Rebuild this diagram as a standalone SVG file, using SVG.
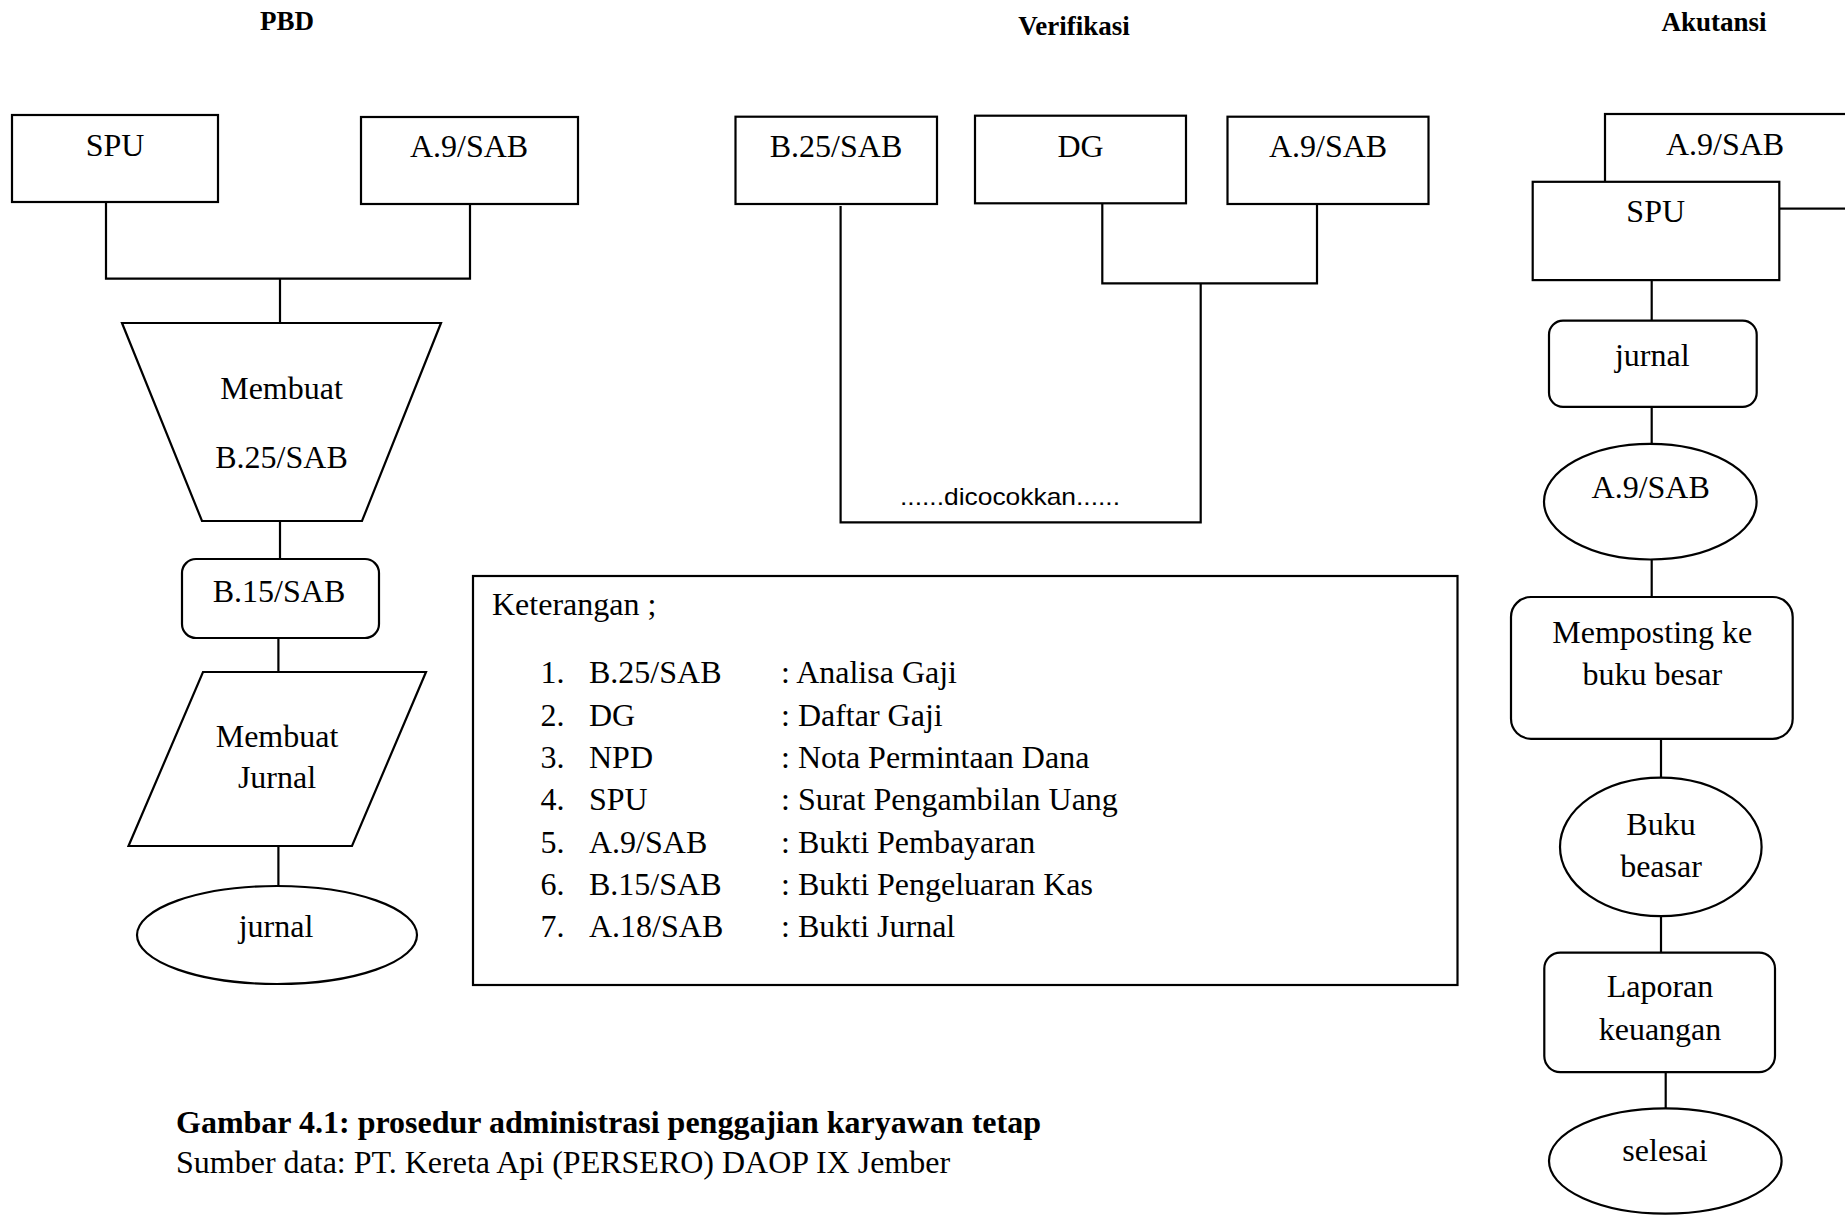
<svg xmlns="http://www.w3.org/2000/svg" width="1845" height="1215" viewBox="0 0 1845 1215">
<style>
  .n { fill: #fff; stroke: #000; stroke-width: 2.2; }
  .c { fill: none; stroke: #000; stroke-width: 2.2; }
  text { font-family: "Liberation Serif", "Times New Roman", serif; font-size: 32px; fill: #000; }
  .m { text-anchor: middle; }
  .t { font-weight: bold; font-size: 27px; text-anchor: middle; }
  .b { font-weight: bold; }
  .s { font-family: "Liberation Sans", Arial, sans-serif; font-size: 24px; text-anchor: middle; }
</style>
<rect width="1845" height="1215" fill="#fff"/>

<g id="titles">
  <text class="t" x="287" y="30">PBD</text>
  <text class="t" x="1074" y="35">Verifikasi</text>
  <text class="t" x="1714" y="31">Akutansi</text>
</g>

<g id="connectors">
  <path class="c" d="M106,202 V278.6 H470 V204 M280,278.6 V323"/>
  <path class="c" d="M280,521 V559"/>
  <path class="c" d="M278.4,638 V672"/>
  <path class="c" d="M278.4,846 V886"/>
  <path class="c" d="M840.6,206 V522.3 H1200.7 V283.3"/>
  <path class="c" d="M1102.3,203.3 V283.3 H1317 V204"/>
  <path class="c" d="M1651.7,280 V320.7"/>
  <path class="c" d="M1651.7,406.8 V444"/>
  <path class="c" d="M1651.7,559.5 V597"/>
  <path class="c" d="M1661,738.8 V777.6"/>
  <path class="c" d="M1661,916.2 V952.6"/>
  <path class="c" d="M1665.7,1072 V1108.5"/>
</g>

<g id="pbd-spu">
  <rect class="n" x="12" y="115" width="206" height="87"/>
  <text class="m" x="115" y="156">SPU</text>
</g>
<g id="pbd-a9">
  <rect class="n" x="361" y="117" width="217" height="87"/>
  <text class="m" x="469" y="157">A.9/SAB</text>
</g>
<g id="pbd-membuat-b25">
  <polygon class="n" points="122,323 441,323 362,521 202,521"/>
  <text class="m" x="281.5" y="399">Membuat</text>
  <text class="m" x="281.5" y="468">B.25/SAB</text>
</g>
<g id="pbd-b15">
  <rect class="n" x="182" y="559" width="197" height="79" rx="14"/>
  <text class="m" x="279" y="602">B.15/SAB</text>
</g>
<g id="pbd-membuat-jurnal">
  <polygon class="n" points="203,672 426,672 352,846 128.5,846"/>
  <text class="m" x="277" y="747">Membuat</text>
  <text class="m" x="277" y="788">Jurnal</text>
</g>
<g id="pbd-jurnal">
  <ellipse class="n" cx="277" cy="935" rx="140" ry="49"/>
  <text class="m" x="276" y="937">jurnal</text>
</g>

<g id="ver-b25">
  <rect class="n" x="735.5" y="116.7" width="201.5" height="87.3"/>
  <text class="m" x="836" y="157">B.25/SAB</text>
</g>
<g id="ver-dg">
  <rect class="n" x="975" y="115.7" width="211" height="87.6"/>
  <text class="m" x="1080.5" y="157">DG</text>
</g>
<g id="ver-a9">
  <rect class="n" x="1227.5" y="116.7" width="201" height="87.3"/>
  <text class="m" x="1328" y="157">A.9/SAB</text>
</g>
<g id="ver-dicocokkan">
  <text class="s" x="1010" y="505" textLength="220" lengthAdjust="spacingAndGlyphs">......dicocokkan......</text>
</g>

<g id="keterangan">
  <rect class="n" x="473" y="576" width="984.5" height="409"/>
  <text x="492" y="615">Keterangan ;</text>
  <g>
    <text x="540.5" y="683.3">1.</text><text x="589" y="683.3">B.25/SAB</text><text x="781" y="683.3">: Analisa Gaji</text>
    <text x="540.5" y="725.6">2.</text><text x="589" y="725.6">DG</text><text x="781" y="725.6">: Daftar Gaji</text>
    <text x="540.5" y="767.9">3.</text><text x="589" y="767.9">NPD</text><text x="781" y="767.9">: Nota Permintaan Dana</text>
    <text x="540.5" y="810.2">4.</text><text x="589" y="810.2">SPU</text><text x="781" y="810.2">: Surat Pengambilan Uang</text>
    <text x="540.5" y="852.5">5.</text><text x="589" y="852.5">A.9/SAB</text><text x="781" y="852.5">: Bukti Pembayaran</text>
    <text x="540.5" y="894.8">6.</text><text x="589" y="894.8">B.15/SAB</text><text x="781" y="894.8">: Bukti Pengeluaran Kas</text>
    <text x="540.5" y="937.1">7.</text><text x="589" y="937.1">A.18/SAB</text><text x="781" y="937.1">: Bukti Jurnal</text>
  </g>
</g>

<g id="caption">
  <text class="b" x="176" y="1132.7">Gambar 4.1: prosedur administrasi penggajian karyawan tetap</text>
  <text x="176" y="1172.7">Sumber data: PT. Kereta Api (PERSERO) DAOP IX Jember</text>
</g>

<g id="ak-a9-doc">
  <rect class="n" x="1605" y="114" width="260" height="94.6"/>
  <text class="m" x="1725" y="155">A.9/SAB</text>
</g>
<g id="ak-spu">
  <rect class="n" x="1532.7" y="181.8" width="246.6" height="98.3"/>
  <text class="m" x="1655.7" y="222">SPU</text>
</g>
<g id="ak-jurnal">
  <rect class="n" x="1549" y="320.7" width="207.7" height="86.1" rx="14"/>
  <text class="m" x="1652.3" y="365.5">jurnal</text>
</g>
<g id="ak-a9">
  <ellipse class="n" cx="1650.3" cy="501.7" rx="106.3" ry="57.8"/>
  <text class="m" x="1650.7" y="497.5">A.9/SAB</text>
</g>
<g id="ak-memposting">
  <rect class="n" x="1511" y="597" width="281.7" height="141.8" rx="20"/>
  <text class="m" x="1652.3" y="642.8">Memposting ke</text>
  <text class="m" x="1652.3" y="684.5">buku besar</text>
</g>
<g id="ak-bukubesar">
  <ellipse class="n" cx="1660.8" cy="846.9" rx="100.8" ry="69.3"/>
  <text class="m" x="1661" y="835.2">Buku</text>
  <text class="m" x="1661" y="876.9">beasar</text>
</g>
<g id="ak-laporan">
  <rect class="n" x="1544.3" y="952.6" width="230.7" height="119.5" rx="16"/>
  <text class="m" x="1660" y="997.2">Laporan</text>
  <text class="m" x="1660" y="1039.7">keuangan</text>
</g>
<g id="ak-selesai">
  <ellipse class="n" cx="1665.3" cy="1161" rx="116.3" ry="52.7"/>
  <text class="m" x="1665" y="1161.2">selesai</text>
</g>
</svg>
